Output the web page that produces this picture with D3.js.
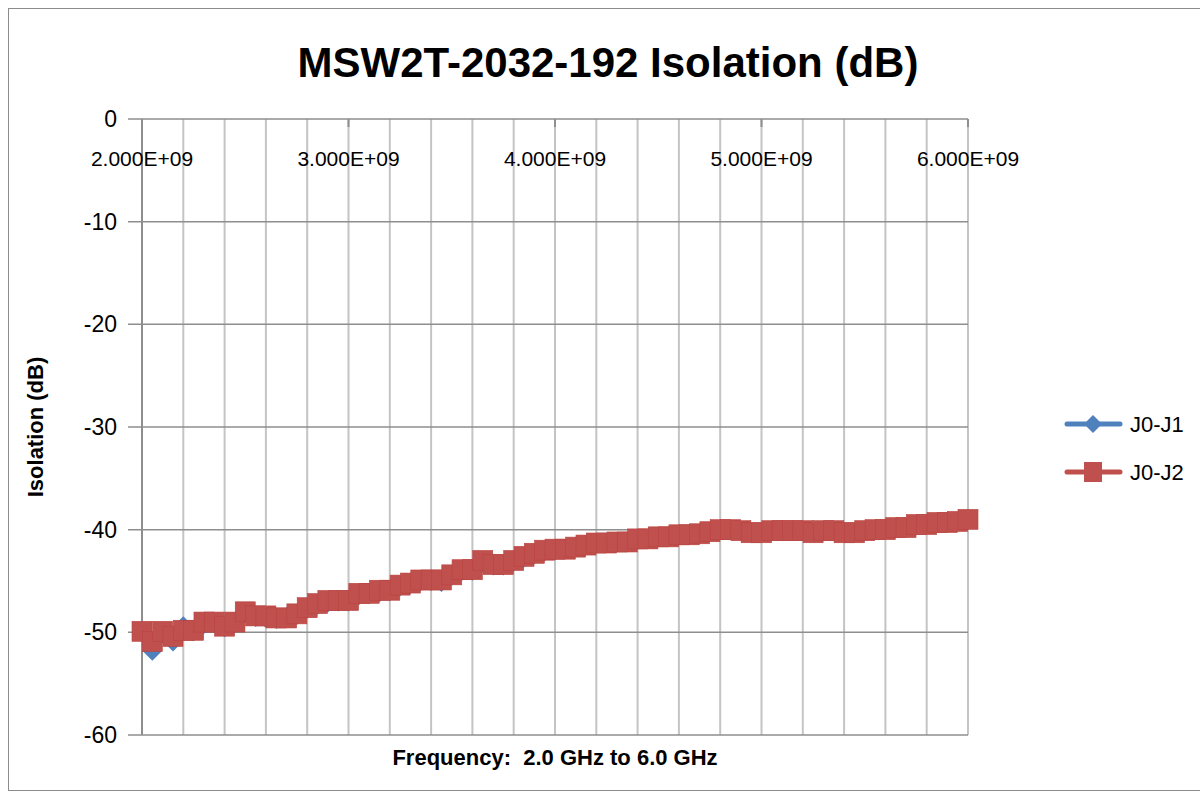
<!DOCTYPE html>
<html>
<head>
<meta charset="utf-8">
<script src="https://cdn.jsdelivr.net/npm/d3@7"></script>
<style>
  body { margin: 0; background: #fff; }
  svg { display: block; font-family: "Liberation Sans", Arial, sans-serif; }
  text { white-space: pre; }
</style>
</head>
<body>
<svg id="chart"></svg>
<script>
let width = 1200, height = 797;

// sweep points, GHz
const freqGHz = [2.00,2.05,2.10,2.15,2.20,2.25,2.30,2.35,2.40,2.45,
  2.50,2.55,2.60,2.65,2.70,2.75,2.80,2.85,2.90,2.95,
  3.00,3.05,3.10,3.15,3.20,3.25,3.30,3.35,3.40,3.45,
  3.50,3.55,3.60,3.65,3.70,3.75,3.80,3.85,3.90,3.95,
  4.00,4.05,4.10,4.15,4.20,4.25,4.30,4.35,4.40,4.45,
  4.50,4.55,4.60,4.65,4.70,4.75,4.80,4.85,4.90,4.95,
  5.00,5.05,5.10,5.15,5.20,5.25,5.30,5.35,5.40,5.45,
  5.50,5.55,5.60,5.65,5.70,5.75,5.80,5.85,5.90,5.95,6.00];

const j0j1 = [-50.0,-51.8,-50.1,-50.9,-49.4,-49.9,-49.2,-49.1,-49.5,-49.1,
  -48.1,-48.5,-48.6,-48.7,-48.5,-48.3,-47.7,-47.3,-47.1,-47.0,
  -47.0,-46.4,-46.3,-46.1,-46.0,-45.5,-45.3,-45.0,-45.0,-45.1,
  -44.5,-44.0,-44.0,-43.2,-43.5,-43.5,-43.1,-42.7,-42.4,-42.1,
  -42.0,-41.9,-41.7,-41.5,-41.3,-41.3,-41.2,-41.2,-40.9,-40.9,
  -40.7,-40.7,-40.5,-40.5,-40.4,-40.2,-40.0,-40.0,-40.1,-40.3,
  -40.3,-40.1,-40.1,-40.1,-40.1,-40.3,-40.1,-40.1,-40.3,-40.3,
  -40.1,-40.0,-40.0,-39.8,-39.8,-39.5,-39.5,-39.3,-39.3,-39.2,-39.0];

const j0j2 = [-49.9,-50.9,-49.9,-50.4,-49.8,-49.8,-49.0,-49.0,-49.4,-49.0,
  -48.0,-48.4,-48.4,-48.6,-48.6,-48.2,-47.6,-47.2,-46.9,-46.9,
  -46.9,-46.2,-46.2,-45.9,-45.9,-45.4,-45.2,-44.9,-44.9,-44.9,
  -44.4,-43.9,-43.9,-43.0,-43.4,-43.4,-43.0,-42.6,-42.3,-42.0,
  -41.9,-41.9,-41.7,-41.5,-41.3,-41.3,-41.2,-41.2,-40.9,-40.9,
  -40.7,-40.7,-40.5,-40.5,-40.4,-40.2,-40.0,-40.0,-40.1,-40.3,
  -40.3,-40.1,-40.1,-40.1,-40.1,-40.3,-40.1,-40.1,-40.3,-40.3,
  -40.1,-40.0,-40.0,-39.8,-39.8,-39.5,-39.5,-39.3,-39.3,-39.2,-39.0];

const xTicks = [2e9, 3e9, 4e9, 5e9, 6e9];
const yTicks = [0, -10, -20, -30, -40, -50, -60];
const seriesNames = ["J0-J1", "J0-J2"];
const seriesColors = ["#4F81BD", "#C0504D"];

let svg = d3.select("#chart").attr("width", width).attr("height", height);

// chart area border
svg.append("rect")
  .attr("x", 8.5).attr("y", 8.5)
  .attr("width", 1300).attr("height", 782)
  .attr("fill", "#fff").attr("stroke", "#8c8c8c").attr("stroke-width", 1);

let x = d3.scaleLinear().domain([2e9, 6e9]).range([142, 968]);
let y = d3.scaleLinear().domain([-60, 0]).range([735, 119]);

function fmtE(v) {
  const parts = v.toExponential(3).split("e");
  const sign = parts[1][0];
  return parts[0] + "E" + sign + parts[1].slice(1).padStart(2, "0");
}

// minor vertical gridlines every 0.2 GHz
const minorX = d3.range(0, 21).map(i => 2e9 + i * 2e8);
svg.append("g").selectAll("line")
  .data(minorX)
  .join("line")
  .attr("x1", d => x(d)).attr("x2", d => x(d))
  .attr("y1", y(0)).attr("y2", y(-60))
  .attr("stroke", "#c4c4c4").attr("stroke-width", 2);

// horizontal gridlines
svg.append("g").selectAll("line")
  .data(yTicks)
  .join("line")
  .attr("x1", x(2e9) - 14).attr("x2", x(6e9))
  .attr("y1", d => y(d)).attr("y2", d => y(d))
  .attr("stroke", "#8e8e8e").attr("stroke-width", 1.5);

// y axis line
svg.append("line")
  .attr("x1", x(2e9)).attr("x2", x(2e9))
  .attr("y1", y(0)).attr("y2", y(-60))
  .attr("stroke", "#8e8e8e").attr("stroke-width", 2);

// x axis ticks at top
svg.append("g").selectAll("line")
  .data(xTicks)
  .join("line")
  .attr("x1", d => x(d)).attr("x2", d => x(d))
  .attr("y1", y(0)).attr("y2", y(0) + 8)
  .attr("stroke", "#8e8e8e").attr("stroke-width", 2);

// y tick labels
svg.append("g").selectAll("text")
  .data(yTicks)
  .join("text")
  .attr("x", 117).attr("y", d => y(d) + 8)
  .attr("text-anchor", "end")
  .attr("font-size", 23)
  .attr("fill", "#000")
  .text(d => d3.format("d")(d).replace("\u2212", "-"));

// x tick labels
svg.append("g").selectAll("text")
  .data(xTicks)
  .join("text")
  .attr("x", d => x(d)).attr("y", 166)
  .attr("text-anchor", "middle")
  .attr("font-size", 21)
  .attr("fill", "#000")
  .text(d => fmtE(d));

// series
const allSeries = [j0j1, j0j2];
let line = d3.line()
  .x((d, i) => x(freqGHz[i] * 1e9))
  .y(d => y(d));

allSeries.forEach((vals, s) => {
  let g = svg.append("g");
  g.append("path")
    .datum(vals)
    .attr("d", line)
    .attr("fill", "none")
    .attr("stroke", seriesColors[s])
    .attr("stroke-width", 5)
    .attr("stroke-linejoin", "round");
  if (s === 0) {
    g.selectAll("path.mk")
      .data(vals)
      .join("path")
      .attr("class", "mk")
      .attr("transform", (d, i) => `translate(${x(freqGHz[i] * 1e9)},${y(d)})`)
      .attr("d", "M0,-10L10,0L0,10L-10,0Z")
      .attr("fill", seriesColors[s]);
  } else {
    g.selectAll("rect")
      .data(vals)
      .join("rect")
      .attr("x", (d, i) => x(freqGHz[i] * 1e9) - 10)
      .attr("y", d => y(d) - 10)
      .attr("width", 20).attr("height", 20)
      .attr("fill", seriesColors[s])
      .attr("stroke", "#b9433f").attr("stroke-width", 0.6);
  }
});

// legend
const legendY = [424, 472];
seriesNames.forEach((name, s) => {
  let g = svg.append("g");
  g.append("line")
    .attr("x1", 1067).attr("x2", 1120)
    .attr("y1", legendY[s]).attr("y2", legendY[s])
    .attr("stroke", seriesColors[s]).attr("stroke-width", 5)
    .attr("stroke-linecap", "round");
  if (s === 0) {
    g.append("path")
      .attr("transform", `translate(1093,${legendY[s]})`)
      .attr("d", "M0,-9L9,0L0,9L-9,0Z")
      .attr("fill", seriesColors[s]);
  } else {
    g.append("rect")
      .attr("x", 1084).attr("y", legendY[s] - 10)
      .attr("width", 18).attr("height", 20)
      .attr("fill", seriesColors[s]);
  }
  g.append("text")
    .attr("x", 1130).attr("y", legendY[s] + 8)
    .attr("font-size", 22)
    .text(name);
});

// titles
svg.append("text")
  .attr("x", 608).attr("y", 77)
  .attr("text-anchor", "middle")
  .attr("font-size", 42).attr("font-weight", "bold")
  .text("MSW2T-2032-192 Isolation (dB)");

svg.append("text")
  .attr("transform", "translate(43,427) rotate(-90)")
  .attr("text-anchor", "middle")
  .attr("font-size", 22).attr("font-weight", "bold")
  .text("Isolation (dB)");

svg.append("text")
  .attr("x", 555).attr("y", 765)
  .attr("text-anchor", "middle")
  .attr("font-size", 22).attr("font-weight", "bold")
  .text("Frequency:  2.0 GHz to 6.0 GHz");
</script>
</body>
</html>
